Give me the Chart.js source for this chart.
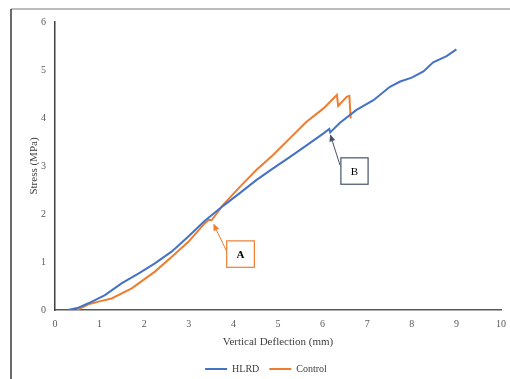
<!DOCTYPE html>
<html>
<head>
<meta charset="utf-8">
<script src="https://cdn.jsdelivr.net/npm/chart.js@4/dist/chart.umd.min.js"></script>
<style>
html,body{margin:0;padding:0;background:#fff;}
#wrap{width:510px;height:379px;position:relative;}
</style>
</head>
<body>
<div id="wrap"><canvas id="c" width="510" height="379"></canvas></div>
<script>
// ---- data ----
const seriesNames = ["HLRD", "Control"];
const hlrdX = [0.29, 0.5, 0.75, 1.12, 1.5, 1.87, 2.24, 2.62, 2.99, 3.36, 3.77, 4.15, 4.52, 4.89, 5.27, 5.64, 6.02, 6.15, 6.17, 6.39, 6.76, 7.14, 7.51, 7.74, 8.0, 8.26, 8.48, 8.78, 9.0];
const hlrdY = [0, 0.04, 0.14, 0.31, 0.56, 0.76, 0.97, 1.22, 1.53, 1.86, 2.17, 2.44, 2.71, 2.95, 3.19, 3.43, 3.68, 3.77, 3.70, 3.90, 4.17, 4.37, 4.65, 4.76, 4.84, 4.97, 5.16, 5.29, 5.43];
const controlX = [0.49, 0.75, 1.0, 1.27, 1.72, 2.24, 2.62, 2.99, 3.36, 3.45, 3.51, 3.77, 4.15, 4.52, 4.89, 5.27, 5.64, 6.02, 6.32, 6.35, 6.54, 6.6, 6.63];
const controlY = [0, 0.12, 0.18, 0.24, 0.45, 0.80, 1.11, 1.42, 1.81, 1.88, 1.87, 2.19, 2.57, 2.92, 3.23, 3.58, 3.92, 4.20, 4.48, 4.25, 4.44, 4.46, 3.99];
const xTicks = [0, 1, 2, 3, 4, 5, 6, 7, 8, 9, 10];
const yTicks = [0, 1, 2, 3, 4, 5, 6];
const xTitle = "Vertical Deflection (mm)";
const yTitle = "Stress (MPa)";
// annotation callouts (data units): label, box x-range, box y-range, arrow tail, arrow head
const calloutLabels = ["A", "B"];
const calloutBoxX = [[3.85, 4.47], [6.41, 7.02]];
const calloutBoxY = [[0.89, 1.44], [2.62, 3.17]];
const calloutTail = [[3.85, 1.22], [6.39, 3.02]];
const calloutHead = [[3.55, 1.80], [6.17, 3.66]];

const colors = ["#4472C4", "#ED7D31"];
const calloutColors = ["#ED7D31", "#44546A"];

function pts(xs, ys){ return xs.map((x,i)=>({x:x, y:ys[i]})); }

const framePlugin = {
  id:'frame',
  beforeDraw(chart){
    const ctx = chart.ctx;
    ctx.save();
    ctx.fillStyle = '#fff';
    ctx.fillRect(0,0,chart.width,chart.height);
    ctx.strokeStyle = '#a6a6a6';
    ctx.lineWidth = 1.5;
    ctx.beginPath(); ctx.moveTo(11, 9); ctx.lineTo(chart.width, 9); ctx.stroke();
    ctx.strokeStyle = '#3a3a3a';
    ctx.lineWidth = 1.5;
    ctx.beginPath(); ctx.moveTo(11, 9); ctx.lineTo(11, chart.height); ctx.stroke();
    ctx.restore();
  }
};

const legendShift = {
  id:'legendShift',
  afterLayout(chart){
    const lg = chart.legend;
    if (!lg) return;
    lg.left += 3; lg.right += 3;
    lg.top += 5; lg.bottom += 5;
  }
};

const calloutPlugin = {
  id:'callouts',
  afterDatasetsDraw(chart){
    const ctx = chart.ctx, xs = chart.scales.x, ys = chart.scales.y;
    ctx.save();
    calloutLabels.forEach((lab, i) => {
      const col = calloutColors[i];
      const x0 = xs.getPixelForValue(calloutBoxX[i][0]), x1 = xs.getPixelForValue(calloutBoxX[i][1]);
      const y0 = ys.getPixelForValue(calloutBoxY[i][1]), y1 = ys.getPixelForValue(calloutBoxY[i][0]);
      const tx = xs.getPixelForValue(calloutTail[i][0]), ty = ys.getPixelForValue(calloutTail[i][1]);
      const hx = xs.getPixelForValue(calloutHead[i][0]), hy = ys.getPixelForValue(calloutHead[i][1]);
      ctx.strokeStyle = col; ctx.fillStyle = col; ctx.lineWidth = 1;
      const ang = Math.atan2(hy - ty, hx - tx);
      const hl = 7, hw = 3;
      const bx = hx - hl*Math.cos(ang), by = hy - hl*Math.sin(ang);
      ctx.beginPath(); ctx.moveTo(tx, ty); ctx.lineTo(bx, by); ctx.stroke();
      ctx.beginPath();
      ctx.moveTo(hx, hy);
      ctx.lineTo(bx + hw*Math.sin(ang), by - hw*Math.cos(ang));
      ctx.lineTo(bx - hw*Math.sin(ang), by + hw*Math.cos(ang));
      ctx.closePath(); ctx.fill();
      ctx.fillStyle = '#fff';
      ctx.fillRect(x0, y0, x1-x0, y1-y0);
      ctx.lineWidth = 1.2;
      ctx.strokeStyle = col;
      ctx.strokeRect(x0, y0, x1-x0, y1-y0);
      ctx.fillStyle = '#000';
      ctx.font = (i===0 ? 'bold ' : '') + '11px "Liberation Serif", "Times New Roman", serif';
      ctx.textAlign = 'center'; ctx.textBaseline = 'middle';
      ctx.fillText(lab, (x0+x1)/2, (y0+y1)/2 + 1);
    });
    ctx.restore();
  }
};

const serif = '"Liberation Serif", "Times New Roman", serif';

new Chart(document.getElementById('c'), {
  type: 'scatter',
  data: {
    datasets: [
      {label: seriesNames[0], data: pts(hlrdX, hlrdY), showLine: true, borderColor: colors[0], backgroundColor: colors[0], borderWidth: 2, pointRadius: 0, tension: 0},
      {label: seriesNames[1], data: pts(controlX, controlY), showLine: true, borderColor: colors[1], backgroundColor: colors[1], borderWidth: 2, pointRadius: 0, tension: 0}
    ]
  },
  options: {
    responsive: false,
    animation: false,
    layout: {padding: {top: 22, right: 4, left: 20, bottom: 0}},
    plugins: {
      legend: {
        position: 'bottom',
        labels: {
          usePointStyle: true, pointStyle: 'line', pointStyleWidth: 22, boxHeight: 10,
          color: '#404040', font: {family: serif, size: 10}, padding: 10
        }
      },
      tooltip: {enabled: false}
    },
    scales: {
      x: {
        type: 'linear', min: 0, max: 10,
        afterBuildTicks: s => { s.ticks = xTicks.map(v => ({value: v})); },
        grid: {display: false, drawTicks: false},
        border: {display: true, color: '#595959', width: 1.5},
        ticks: {color: '#595959', font: {family: serif, size: 10}, padding: 8, maxRotation: 0},
        title: {display: true, text: xTitle, color: '#404040', font: {family: serif, size: 11}, padding: {top: 0, bottom: 0}},
        afterFit: s => { s.height = 39; s.paddingRight = 9; s.paddingLeft = 0; }
      },
      y: {
        type: 'linear', min: 0, max: 6,
        afterBuildTicks: s => { s.ticks = yTicks.map(v => ({value: v})); },
        grid: {display: false, drawTicks: false},
        border: {display: true, color: '#404040', width: 1.5},
        ticks: {color: '#595959', font: {family: serif, size: 10}, padding: 9},
        title: {display: true, text: yTitle, color: '#404040', font: {family: serif, size: 11}, padding: {top: 8, bottom: 0}},
        afterFit: s => { s.width = 35; }
      }
    }
  },
  plugins: [framePlugin, legendShift, calloutPlugin]
});
</script>
</body>
</html>
